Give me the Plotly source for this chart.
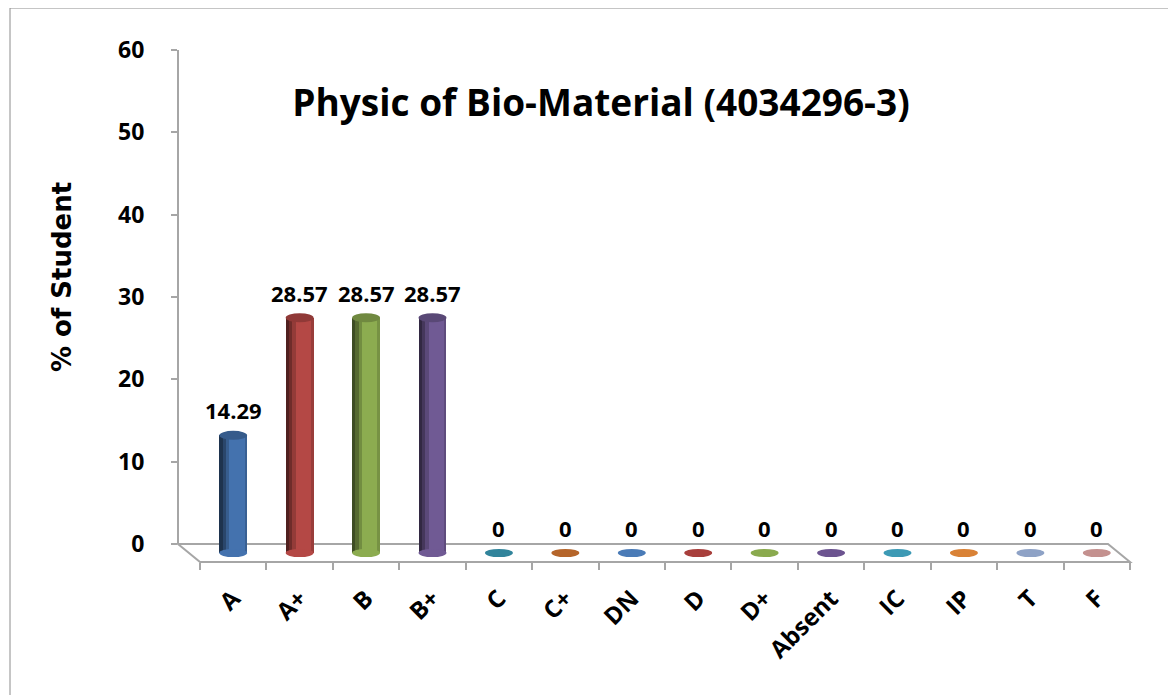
import plotly.graph_objects as go

# grade categories and % of students
grades = ['A', 'A+', 'B', 'B+', 'C', 'C+', 'DN', 'D', 'D+', 'Absent', 'IC', 'IP', 'T', 'F']
pct_students = [14.29, 28.57, 28.57, 28.57, 0, 0, 0, 0, 0, 0, 0, 0, 0, 0]
y_ticks = [0, 10, 20, 30, 40, 50, 60]

bar_colors = ['#4472AE', '#B44845', '#8CAC50', '#705A94', '#31849B', '#B5652A', '#4A7BB7',
              '#A83F3C', '#8AAA4E', '#6C5490', '#3D9AB5', '#D98236', '#8EA2C6', '#C4918F']

# page has an 8px body margin, so the figure is a bit smaller and offset
OX, OY = 8, 8
W, H = 1176 - OX, 695 - OY


def px(x):
    return (x - OX) / W


def py(y):
    return 1 - (y - OY) / H


def shade(c, f):
    # mix colour with black by factor f
    r, g, b = int(c[1:3], 16), int(c[3:5], 16), int(c[5:7], 16)
    return '#%02x%02x%02x' % (int(r * (1 - f)), int(g * (1 - f)), int(b * (1 - f)))


BW = 0.42  # cylinder width in category units
fig = go.Figure()

# cylinder body with crude shading strips
strips = [(BW, -BW / 2, 0.0), (0.05, -BW / 2, 0.55), (0.05, -BW / 2 + 0.05, 0.38),
          (0.05, -BW / 2 + 0.10, 0.18), (0.04, BW / 2 - 0.04, 0.15)]
for w, off, f in strips:
    fig.add_trace(go.Bar(
        x=grades, y=pct_students, width=w, offset=off,
        marker=dict(color=[shade(c, f) for c in bar_colors], line=dict(width=0)),
        showlegend=False, hoverinfo='skip' if f else None,
    ))

# invisible trace so the visible value axis gets drawn
fig.add_trace(go.Scatter(x=grades, y=pct_students, yaxis='y2', mode='markers',
                         marker=dict(opacity=0), showlegend=False, hoverinfo='skip'))

shapes = []
# frame around chart area
shapes.append(dict(type='rect', xref='paper', yref='paper', x0=px(10), x1=px(1190),
                   y0=py(710), y1=py(8), line=dict(color='#8c8c8c', width=1), layer='below'))
# 3D floor
floor = 'M {},{} L {},{} L {},{} L {},{} Z'.format(px(178), py(544), px(1108), py(544),
                                                 px(1130), py(562), px(200), py(562))
shapes.append(dict(type='path', xref='paper', yref='paper', path=floor,
                   fillcolor='white', line=dict(color='#a6a6a6', width=2), layer='below'))

# cylinder caps (ellipses)
for i, (v, c) in enumerate(zip(pct_students, bar_colors)):
    shapes.append(dict(type='circle', xref='x', yref='y', x0=i - BW / 2, x1=i + BW / 2,
                       y0=-0.5, y1=0.5, fillcolor=c, line=dict(width=0)))
    if v > 0:
        shapes.append(dict(type='circle', xref='x', yref='y', x0=i - BW / 2, x1=i + BW / 2,
                           y0=v - 0.55, y1=v + 0.55, fillcolor=shade(c, 0.2), line=dict(width=0)))

annotations = []
for g, v in zip(grades, pct_students):
    annotations.append(dict(x=g, y=v, xref='x', yref='y', text=f'{v:g}', showarrow=False,
                            yshift=25, font=dict(family='Open Sans', size=22, color='black', weight='bold')))
annotations.append(dict(x=px(62), y=py(277), xref='paper', yref='paper', text='% of Student',
                        textangle=-90, showarrow=False, xanchor='center', yanchor='middle',
                        font=dict(family='DejaVu Sans', size=26, color='black', weight='bold')))

UNIT = (544 - 50) / 60  # px per percent

fig.update_layout(
    width=W, height=H,
    margin=dict(l=0, r=0, t=0, b=0),
    paper_bgcolor='white', plot_bgcolor='rgba(0,0,0,0)',
    barmode='overlay', bargap=0,
    title=dict(text='Physic of Bio-Material (4034296-3)', x=px(601), y=py(103),
               xanchor='center', yanchor='middle',
               font=dict(family='Open Sans', size=37, color='black', weight='bold')),
    xaxis=dict(domain=[px(200), px(1130)], range=[-0.5, len(grades) - 0.5],
               anchor='free', position=py(562), type='category', automargin=False,
               showline=True, linecolor='#a6a6a6', linewidth=2,
               ticks='outside', tickson='boundaries', ticklen=7, tickcolor='#a6a6a6', tickwidth=2,
               tickangle=-45, showgrid=False, zeroline=False, ticklabelstandoff=12,
               tickfont=dict(family='Open Sans', size=24, color='black', weight='bold')),
    yaxis=dict(domain=[py(553 + 2 * UNIT), py(553 - 60 * UNIT)], range=[-2, 60],
               visible=False, automargin=False),
    yaxis2=dict(domain=[py(544), py(50)], range=[0, 60], anchor='free', position=px(178),
                tickvals=y_ticks, showline=True, linecolor='#a6a6a6', linewidth=2,
                ticks='outside', ticklen=6, tickcolor='#a6a6a6', tickwidth=2, automargin=False,
                ticklabelstandoff=22, showgrid=False, zeroline=False,
                tickfont=dict(family='Open Sans', size=23, color='black', weight='bold')),
    shapes=shapes,
    annotations=annotations,
)

fig.write_html('out.html')
